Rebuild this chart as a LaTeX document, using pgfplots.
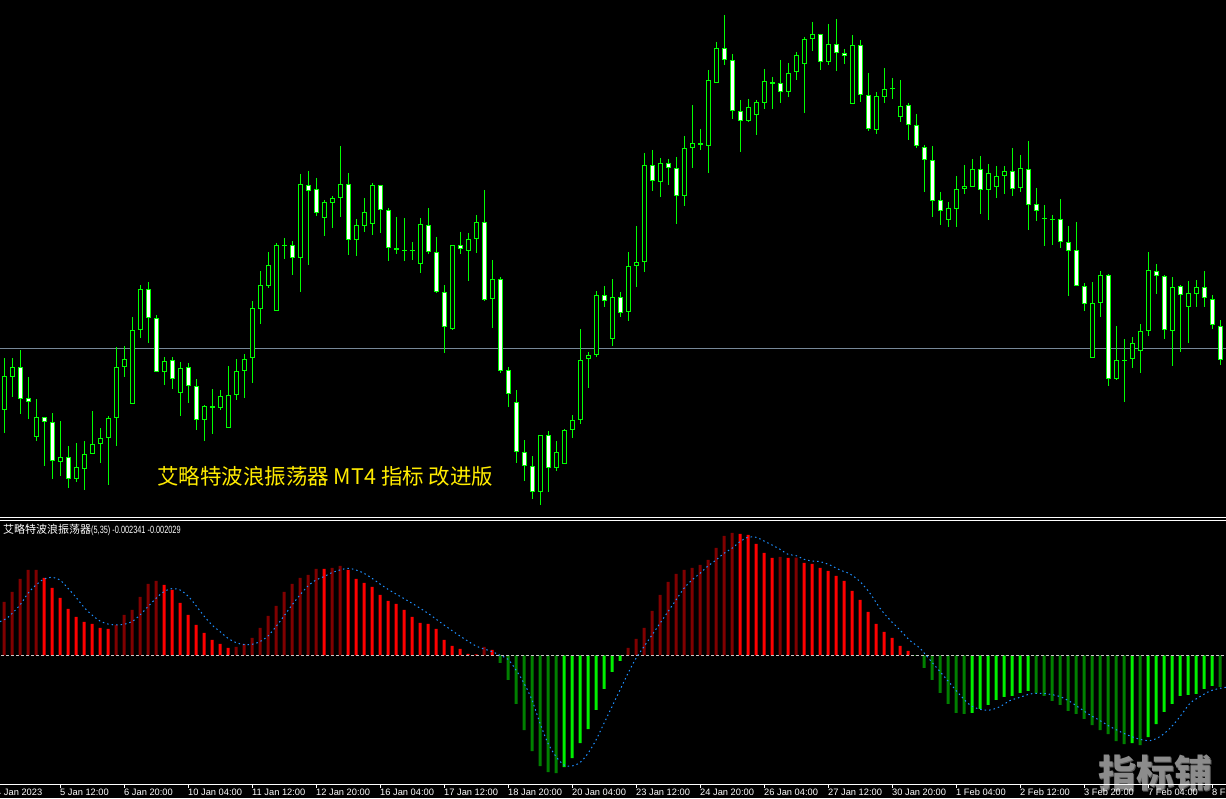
\documentclass[border=0pt]{standalone}
\usepackage{pgfplots}
\pgfplotsset{compat=1.18}
\usepackage{pgfplotstable}
\usepackage{fontspec}
\setmainfont{Liberation Sans}
\newfontfamily\cjk{Noto Sans CJK SC}
\newfontfamily\narrow[FakeStretch=0.7]{Liberation Sans}

\definecolor{candle}{RGB}{0,255,0}
\definecolor{dred}{RGB}{128,0,0}
\definecolor{bred}{RGB}{255,0,0}
\definecolor{dgreen}{RGB}{0,128,0}
\definecolor{bgreen}{RGB}{0,240,0}
\definecolor{sig}{RGB}{30,144,255}
\definecolor{bidline}{RGB}{119,136,153}
\definecolor{zl}{RGB}{200,200,200}
\definecolor{ttl}{RGB}{255,236,0}
\definecolor{wm}{RGB}{140,140,140}
\definecolor{wmshade}{RGB}{90,90,90}

% candles, H4 bars; values are pixel rows from the top of the chart
\pgfplotstableread{
i hi top bot lo bear
0 358 376 410 433 0
1 358 367 377 397 0
2 350 367 399 414 1
3 377 398 402 419 1
4 399 417 437 441 0
5 417 417 422 466 1
6 413 422 461 479 1
7 421 457 462 476 0
8 446 457 479 488 1
9 443 467 479 482 0
10 441 454 469 490 0
11 411 444 454 454 0
12 428 438 444 463 0
13 416 418 438 485 0
14 347 367 418 446 0
15 346 359 367 377 0
16 317 330 404 404 0
17 285 289 330 338 0
18 282 289 318 343 1
19 315 318 372 372 1
20 357 361 372 385 0
21 357 360 379 389 1
22 362 368 393 416 0
23 363 367 386 403 1
24 379 386 420 430 1
25 405 406 420 441 0
26 389 406 408 434 1
27 390 396 408 410 0
28 366 395 428 428 0
29 359 371 395 400 0
30 354 359 371 398 0
31 301 308 358 383 0
32 271 285 309 324 0
33 252 265 286 288 0
34 243 245 311 311 0
35 238 245 246 259 0
36 241 245 258 275 1
37 174 184 258 292 0
38 171 185 191 265 1
39 178 189 213 216 1
40 200 202 218 236 0
41 196 198 203 228 0
42 146 184 198 217 0
43 173 184 240 255 1
44 219 225 240 256 0
45 198 212 226 232 0
46 183 185 224 235 0
47 185 185 210 233 1
48 208 210 248 261 1
49 217 248 250 254 1
50 218 250 251 261 0
51 242 250 251 260 0
52 218 224 264 273 0
53 208 225 252 254 1
54 237 252 292 293 1
55 285 292 327 353 1
56 245 245 329 330 0
57 232 245 249 254 1
58 233 239 251 281 0
59 215 222 239 253 0
60 190 222 300 301 1
61 260 279 299 328 0
62 277 279 371 373 1
63 367 370 394 407 1
64 390 402 452 463 1
65 440 452 466 481 1
66 456 466 492 499 1
67 435 435 492 505 0
68 431 435 468 492 1
69 441 452 468 471 0
70 429 430 464 464 0
71 415 420 430 438 0
72 329 360 420 424 0
73 352 355 359 388 0
74 291 295 355 357 0
75 286 295 301 307 1
76 279 297 339 346 0
77 292 297 313 317 1
78 252 266 312 321 0
79 226 262 266 287 0
80 153 165 262 272 0
81 150 165 181 191 1
82 158 163 182 197 0
83 159 163 168 185 1
84 157 168 196 224 1
85 136 148 196 206 0
86 105 143 148 168 0
87 129 143 145 150 1
88 70 80 146 173 0
89 42 48 83 83 0
90 15 48 60 65 1
91 54 60 111 119 1
92 100 111 121 152 1
93 99 107 121 122 0
94 100 102 115 135 0
95 69 81 103 109 0
96 77 82 84 109 1
97 60 83 92 103 1
98 63 73 92 97 0
99 52 55 72 80 0
100 37 39 64 113 0
101 22 34 39 51 0
102 34 34 62 70 1
103 24 44 62 65 0
104 19 44 53 71 1
105 49 53 56 64 1
106 35 45 104 104 0
107 40 45 95 102 1
108 73 95 129 131 1
109 92 96 130 134 0
110 68 89 97 103 0
111 78 88 89 99 0
112 80 106 117 122 0
113 103 105 125 140 1
114 114 125 146 148 1
115 145 147 160 192 1
116 146 160 201 217 1
117 192 200 211 225 1
118 202 208 220 227 0
119 176 189 209 227 0
120 165 186 189 194 0
121 159 169 187 187 0
122 156 169 190 214 1
123 164 173 190 220 0
124 166 176 187 198 0
125 166 171 176 194 0
126 148 171 189 196 1
127 155 168 188 192 0
128 141 169 205 230 1
129 188 204 211 221 1
130 205 218 219 246 0
131 215 219 220 245 0
132 199 219 242 248 1
133 226 242 251 296 1
134 222 250 286 286 1
135 283 286 304 311 1
136 282 303 358 358 0
137 271 275 303 317 0
138 274 275 379 386 1
139 326 360 379 380 0
140 339 360 361 402 0
141 337 343 359 368 0
142 324 331 351 373 0
143 252 270 331 336 0
144 264 271 276 294 1
145 275 276 330 339 1
146 277 287 331 366 0
147 285 286 295 352 1
148 281 293 307 343 0
149 280 287 294 307 0
150 271 287 298 307 1
151 295 299 325 329 1
152 320 326 360 365 1
}\candles

% oscillator histogram; c: 0 dark red, 1 red, 2 dark green, 3 green
\pgfplotstableread{
i v c
0 53.3 0
1 63.3 0
2 76.3 0
3 85.3 0
4 85.3 0
5 77.3 1
6 67.3 1
7 57.3 1
8 46.3 1
9 38.3 1
10 33.3 1
11 31.3 1
12 27.3 1
13 26.3 1
14 30.3 0
15 40.3 0
16 45.3 0
17 58.3 0
18 71.3 0
19 74.3 0
20 70.3 1
21 65.3 1
22 52.3 1
23 40.3 1
24 30.3 1
25 22.3 1
26 15.3 1
27 11.3 1
28 7.3 1
29 8.3 0
30 11.3 0
31 17.3 0
32 27.3 0
33 39.3 0
34 49.3 0
35 63.3 0
36 71.3 0
37 77.3 0
38 80.3 0
39 86.3 0
40 86.3 1
41 87.3 0
42 89.3 0
43 85.3 1
44 76.3 1
45 72.3 1
46 68.3 1
47 60.3 1
48 54.3 1
49 51.3 1
50 45.3 1
51 38.3 1
52 32.3 1
53 31.3 1
54 26.3 1
55 15.3 1
56 9.3 1
57 6.3 1
58 1.3 1
59 1.0 1
60 8.3 0
61 5.3 1
62 -7.7 2
63 -24.7 2
64 -48.7 2
65 -74.7 2
66 -95.7 2
67 -110.7 2
68 -116.7 2
69 -117.7 2
70 -111.7 3
71 -102.7 3
72 -87.7 3
73 -73.7 3
74 -54.7 3
75 -33.7 3
76 -16.7 3
77 -5.7 3
78 7.3 0
79 16.3 0
80 27.3 0
81 44.3 0
82 60.3 0
83 73.3 0
84 81.3 0
85 85.3 0
86 87.3 0
87 90.3 0
88 95.3 0
89 107.3 0
90 119.3 0
91 122.3 0
92 121.3 1
93 120.3 1
94 111.3 1
95 102.3 1
96 97.3 1
97 98.3 0
98 97.3 1
99 97.7 0
100 92.3 1
101 91.3 1
102 87.3 1
103 84.3 1
104 79.3 1
105 74.3 1
106 64.3 1
107 55.3 1
108 43.3 1
109 31.3 1
110 23.3 1
111 17.3 1
112 9.3 1
113 4.3 1
114 -0.7 2
115 -12.7 2
116 -24.7 2
117 -37.7 2
118 -48.7 2
119 -57.7 2
120 -58.7 2
121 -57.7 3
122 -53.7 3
123 -49.7 3
124 -44.7 3
125 -41.7 3
126 -40.7 3
127 -37.7 3
128 -35.7 3
129 -38 2
130 -40.7 2
131 -45.7 2
132 -49.7 2
133 -55.7 2
134 -58.7 2
135 -63.7 2
136 -69.7 2
137 -74.7 2
138 -78.7 2
139 -85.7 2
140 -88.7 2
141 -87.7 3
142 -89.7 2
143 -81.7 3
144 -68.7 3
145 -56.7 3
146 -48.7 3
147 -40.7 3
148 -39.7 3
149 -38.7 3
150 -33.7 3
151 -30.7 3
152 -31.7 2
}\osc

% signal line
\pgfplotstableread{
i s
-0.5 33.7
0.5 38
2 50.3
3 62
4 70.3
5 76.3
6 78
7 75.3
8 67
9 58
10 48
11 40.3
12 34.3
13 31.3
14 30.3
15 31
16 33.7
17 40.3
18 48.7
19 57
20 63.7
21 66.7
22 65.3
23 59.3
24 49.7
25 39.3
26 30.3
27 23.7
28 17
29 12.7
30 10.7
31 11
32 13.7
33 19.3
34 28.7
35 39.3
36 50.3
37 60.3
38 69.3
39 75.3
40 78.7
41 82.7
42 85.3
43 87
44 85.3
45 82
46 77
47 71.3
48 66
49 61.3
51 52
53 42
55 30.3
57 19.3
59 9.3
61 3.7
62 0
63 -4
64 -14.7
65 -28
66 -44.7
67 -68
68 -88
69 -101.3
70 -109.7
71 -110.7
72 -107.3
73 -98
74 -84.7
75 -68
76 -51.3
77 -34.7
78 -18
79 -3
80 8.7
81 20.3
82 32
83 43.7
84 55.3
85 67
86 75.3
87 82
88 89.3
89 95.3
90 102
91 107
92 113.7
93 118
94 118
95 114.3
96 110.3
97 106
98 101
99 99.7
100 96
101 94.3
102 93.7
103.25 90.3
104.5 85.3
105.75 81.3
107 73.7
108.25 62
109.5 47
110.75 35.3
112 25.3
113.25 14.7
114.5 7
115.75 -4.7
117 -16.3
118.25 -28
119.5 -39.7
120.75 -49.7
122 -54
123.25 -54.7
124.5 -51.3
125.75 -45.3
127 -42
128.25 -38.7
129.5 -38
130.75 -39
132 -41.3
133.25 -46.3
134.5 -53
135.75 -59.7
137 -65.3
138.25 -71.3
139.5 -76.3
140.75 -80.7
142 -84
143.25 -85.3
144.5 -81.3
145.75 -73
147 -61.3
148.25 -48
149.5 -41.3
150.75 -35.7
152 -33
152.75 -32
}\signal

\begin{document}
\begin{tikzpicture}
\useasboundingbox (0,0) rectangle (1226pt,798pt);
\fill[black] (0,0) rectangle (1226pt,798pt);

% watermark under everything else
\node[text=wmshade, font=\cjk\bfseries\fontsize{38}{38}\selectfont, inner sep=0pt] at (1156pt,24pt) {指标铺};
\node[text=wm, font=\cjk\bfseries\fontsize{38}{38}\selectfont, inner sep=0pt] at (1155pt,25pt) {指标铺};

% price window
\begin{axis}[
    at={(0pt,280pt)}, anchor=south west,
    scale only axis, width=1226pt, height=518pt,
    xmin=-0.5, xmax=152.75, ymin=0, ymax=518, y dir=reverse,
    hide axis
]
\addplot[bidline, line width=1pt] coordinates {(-1,348.3) (154,348.3)};
% wicks
\addplot[draw=none, mark=none,
    error bars/.cd, y dir=plus, y explicit, error mark=none,
    error bar style={draw=candle, line width=1pt}]
    table[x=i, y=hi, y error expr=\thisrow{lo}-\thisrow{hi}] {\candles};
% body outline
\addplot[draw=none, mark=none,
    error bars/.cd, y dir=plus, y explicit, error mark=none,
    error bar style={draw=candle, line width=5pt}]
    table[x=i, y=top, y error expr=\thisrow{bot}-\thisrow{top}] {\candles};
% bear bodies (white)
\addplot[draw=none, mark=none,
    restrict expr to domain={\thisrow{bear}*(\thisrow{bot}-\thisrow{top})}{2.5:1000},
    error bars/.cd, y dir=plus, y explicit, error mark=none,
    error bar style={draw=white, line width=3pt}]
    table[x=i, y expr=\thisrow{top}+1, y error expr=\thisrow{bot}-\thisrow{top}-2] {\candles};
% bull bodies (black)
\addplot[draw=none, mark=none,
    restrict expr to domain={(1-\thisrow{bear})*(\thisrow{bot}-\thisrow{top})}{2.5:1000},
    error bars/.cd, y dir=plus, y explicit, error mark=none,
    error bar style={draw=black, line width=3pt}]
    table[x=i, y expr=\thisrow{top}+1, y error expr=\thisrow{bot}-\thisrow{top}-2] {\candles};
\end{axis}

% indicator window
\begin{axis}[
    at={(0pt,14pt)}, anchor=south west,
    scale only axis, width=1226pt, height=263.7pt,
    xmin=-0.5, xmax=152.75, ymin=-128.7, ymax=135,
    axis x line*=bottom, axis y line=none,
    x axis line style={white, line width=1pt},
    ytick=\empty,
    xtick={7,15,...,151},
    xticklabels={5 Jan 12:00, 6 Jan 20:00, 10 Jan 04:00, 11 Jan 12:00,
        12 Jan 20:00, 16 Jan 04:00, 17 Jan 12:00, 18 Jan 20:00, 20 Jan 04:00,
        23 Jan 12:00, 24 Jan 20:00, 26 Jan 04:00, 27 Jan 12:00, 30 Jan 20:00,
        1 Feb 04:00, 2 Feb 12:00, 3 Feb 20:00, 7 Feb 04:00, 8 Feb 12:00},
    tick align=outside, major tick length=4pt,
    xtick style={white, line width=1pt},
    xticklabel style={anchor=north west, inner sep=0pt, text=white, yshift=-1pt,
        font=\fontsize{9.3}{10}\selectfont}
]
\addplot[ybar, bar width=3pt, bar shift=0pt, draw=none, fill=dred,
    restrict expr to domain={\thisrow{c}}{-0.5:0.5}] table[x=i, y=v] {\osc};
\addplot[ybar, bar width=3pt, bar shift=0pt, draw=none, fill=bred,
    restrict expr to domain={\thisrow{c}}{0.5:1.5}] table[x=i, y=v] {\osc};
\addplot[ybar, bar width=3pt, bar shift=0pt, draw=none, fill=dgreen,
    restrict expr to domain={\thisrow{c}}{1.5:2.5}] table[x=i, y=v] {\osc};
\addplot[ybar, bar width=3pt, bar shift=0pt, draw=none, fill=bgreen,
    restrict expr to domain={\thisrow{c}}{2.5:3.5}] table[x=i, y=v] {\osc};
\addplot[zl, line width=1pt, dash pattern=on 3pt off 2pt] coordinates {(-1,0) (154,0)};
\addplot[sig, line width=1pt, dash pattern=on 1.5pt off 3pt, smooth] table[x=i, y=s] {\signal};
\end{axis}

% window separators
\draw[white, line width=1pt] (0,280pt) -- (1226pt,280pt);
\draw[white, line width=1pt] (0,277.5pt) -- (1226pt,277.5pt);

% first date label, its tick lies left of the window
\node[anchor=north west, inner sep=0pt, text=white, font=\fontsize{9.3}{10}\selectfont] at (-4pt,9pt) {4 Jan 2023};

% indicator caption
\node[anchor=west, inner sep=0pt, text=white] at (3pt,268pt)
    {{\cjk\fontsize{11}{11}\selectfont 艾略特波浪振荡器}{\narrow\fontsize{10.5}{11}\selectfont(5,35) -0.002341 -0.002029}};

% chart caption
\node[anchor=west, inner sep=0pt, text=ttl, font=\cjk\fontsize{21.5}{21.5}\selectfont] at (157pt,322pt)
    {艾略特波浪振荡器 MT4 指标 改进版};
\end{tikzpicture}
\end{document}
